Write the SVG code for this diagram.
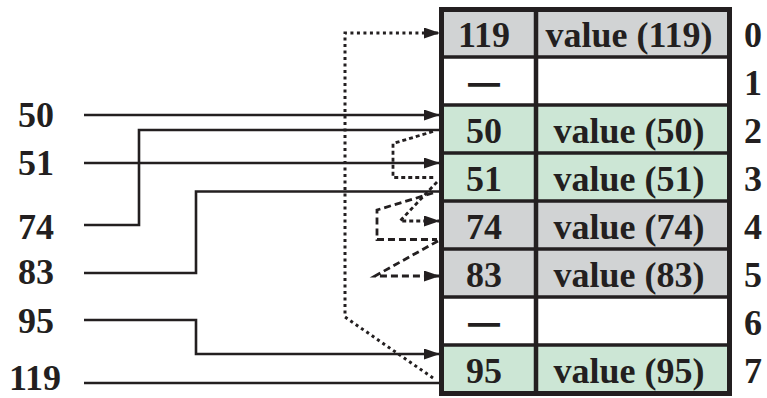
<svg xmlns="http://www.w3.org/2000/svg" width="767" height="398" viewBox="0 0 767 398">
<style>
  text { font-family: "Liberation Serif", "Times New Roman", serif; font-weight: bold; font-size: 36px; fill: #231f20; text-anchor: middle; }
  .em { font-size: 30px; stroke: #231f20; stroke-width: 1.6; }
  .gray { fill: #d1d3d4; }
  .green { fill: #cce6d5; }
  .white { fill: #ffffff; }
  .div { stroke: #231f20; stroke-width: 3.5; fill: none; }
  .solid { stroke: #231f20; stroke-width: 2.6; fill: none; }
  .dash1 { stroke: #231f20; stroke-width: 2.8; fill: none; stroke-dasharray: 4 3; }
  .dash2 { stroke: #231f20; stroke-width: 2.8; fill: none; stroke-dasharray: 7 4; }
  .dot { stroke: #231f20; stroke-width: 3; fill: none; stroke-dasharray: 3 3.5; }
</style>
<defs>
  <marker id="arr" markerUnits="userSpaceOnUse" markerWidth="17" markerHeight="12" refX="16" refY="5.5" orient="auto">
    <path d="M0,0 L16,5.5 L0,11 z" fill="#231f20"/>
  </marker>
</defs>
<rect width="767" height="398" fill="#ffffff"/>

<g id="table">
  <rect class="gray" x="441.5" y="9.5" width="288" height="47.5"/>
  <rect class="white" x="441.5" y="57" width="288" height="48"/>
  <rect class="green" x="441.5" y="105" width="288" height="96"/>
  <rect class="gray" x="441.5" y="201" width="288" height="96"/>
  <rect class="white" x="441.5" y="297" width="288" height="48"/>
  <rect class="green" x="441.5" y="345" width="288" height="48.5"/>
  <path class="div" d="M441.5,57 H729.5 M441.5,105 H729.5 M441.5,153 H729.5 M441.5,201 H729.5 M441.5,249 H729.5 M441.5,297 H729.5 M441.5,345 H729.5"/>
  <line x1="536" y1="9.5" x2="536" y2="393.5" stroke="#231f20" stroke-width="4.5"/>
  <rect x="441.5" y="9.5" width="288" height="384" fill="none" stroke="#231f20" stroke-width="5"/>
</g>

<g id="row0"><text x="484" y="47">119</text><text x="629" y="47">value (119)</text><text x="753" y="47">0</text></g>
<g id="row1"><text class="em" x="484" y="92">—</text><text x="753" y="95">1</text></g>
<g id="row2"><text x="484" y="143">50</text><text x="629" y="143">value (50)</text><text x="753" y="143">2</text></g>
<g id="row3"><text x="484" y="191">51</text><text x="629" y="191">value (51)</text><text x="753" y="191">3</text></g>
<g id="row4"><text x="484" y="239">74</text><text x="629" y="239">value (74)</text><text x="753" y="239">4</text></g>
<g id="row5"><text x="484" y="287">83</text><text x="629" y="287">value (83)</text><text x="753" y="287">5</text></g>
<g id="row6"><text class="em" x="484" y="332">—</text><text x="753" y="335">6</text></g>
<g id="row7"><text x="484" y="383">95</text><text x="629" y="383">value (95)</text><text x="753" y="383">7</text></g>

<g id="labels">
  <text x="36" y="127">50</text>
  <text x="36" y="175">51</text>
  <text x="36" y="239">74</text>
  <text x="36" y="284">83</text>
  <text x="36" y="333">95</text>
  <text x="35" y="390">119</text>
</g>

<g id="connectors">
  <path class="solid" d="M84,115 H440" marker-end="url(#arr)"/>
  <path class="solid" d="M84,163 H440" marker-end="url(#arr)"/>
  <path class="solid" d="M84,225 H139 V130 H439"/>
  <path class="solid" d="M84,273 H196 V191.5 H439"/>
  <path class="solid" d="M84,320 H196 V354 H440" marker-end="url(#arr)"/>
  <path class="solid" d="M84,383 H439"/>
  <path class="dash1" d="M433,131.5 L393,143.5 V177.5 H436"/>
  <path class="dash1" d="M437,182 L400,221 H440" marker-end="url(#arr)"/>
  <path class="dash2" d="M433,193 L377,210 V239.5 H437"/>
  <path class="dash2" d="M438,241 L375,276 H440" marker-end="url(#arr)"/>
  <path class="dot" d="M433,378 L345,317 V33 H440" marker-end="url(#arr)"/>
</g>
</svg>
